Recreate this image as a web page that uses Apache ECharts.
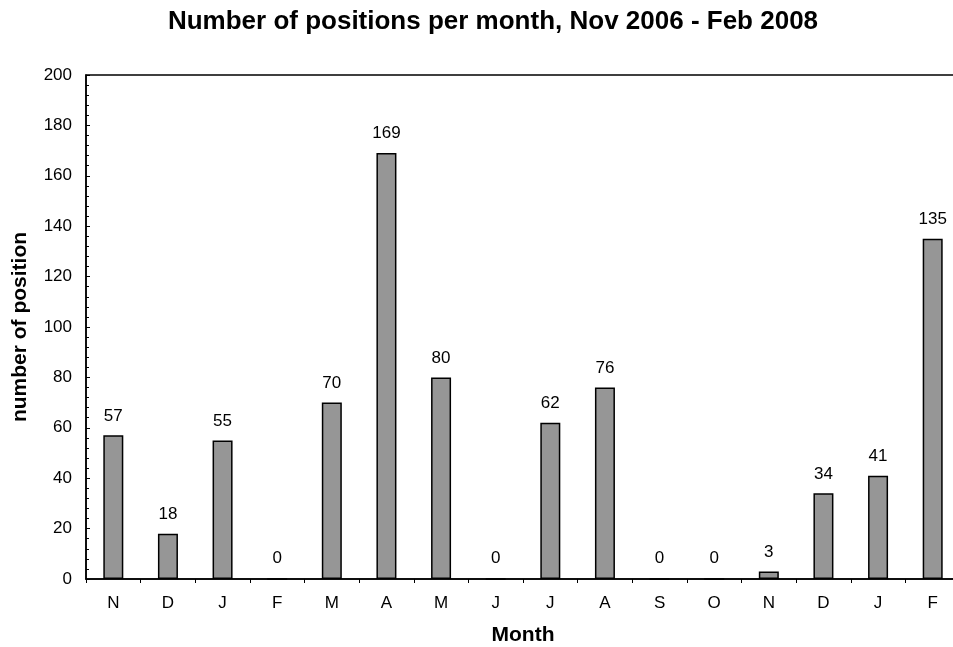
<!DOCTYPE html>
<html>
<head>
<meta charset="utf-8">
<script src="https://cdn.jsdelivr.net/npm/echarts@6/dist/echarts.min.js"></script>
<style>
  html, body { margin: 0; padding: 0; background: #fff; }
  #chart { width: 953px; height: 647px; }
</style>
</head>
<body>
<div id="chart"></div>
<script>
const months = ['N','D','J','F','M','A','M','J','J','A','S','O','N','D','J','F'];
const positions = [57, 18, 55, 0, 70, 169, 80, 0, 62, 76, 0, 0, 3, 34, 41, 135];
const yTicks = { min: 0, max: 200, interval: 20 };

const font = '"Liberation Sans", Arial, sans-serif';
const chart = echarts.init(document.getElementById('chart'));
chart.setOption({
  animation: false,
  backgroundColor: '#fff',
  title: {
    text: 'Number of positions per month, Nov 2006 - Feb 2008',
    left: 488, top: 4, textAlign: 'center',
    textStyle: { fontFamily: font, fontSize: 26, fontWeight: 'bold', color: '#000' }
  },
  // plot area runs a few px past the right edge, like the original
  grid: {
    left: 86, top: 75, width: 874, bottom: 68, outerBoundsMode: 'none',
    show: true, borderColor: '#000', borderWidth: 1.5
  },
  xAxis: {
    type: 'category', data: months,
    name: 'Month', nameLocation: 'middle', nameGap: 46,
    nameTextStyle: { fontFamily: font, fontSize: 21, fontWeight: 'bold', color: '#000' },
    axisLine: { lineStyle: { color: '#000', width: 1.5 } },
    axisTick: { show: true, length: 4, lineStyle: { color: '#000' } },
    axisLabel: { fontFamily: font, fontSize: 17, color: '#000', margin: 16 }
  },
  yAxis: {
    type: 'value', min: yTicks.min, max: yTicks.max, interval: yTicks.interval,
    name: 'number of position', nameLocation: 'middle', nameGap: 55,
    nameTextStyle: { fontFamily: font, fontSize: 21, fontWeight: 'bold', color: '#000' },
    axisLine: { show: true, lineStyle: { color: '#000', width: 1.5 } },
    axisTick: { show: true, inside: true, length: 4, lineStyle: { color: '#000' } },
    minorTick: { show: true, splitNumber: 5, length: 3, lineStyle: { color: '#000' } },
    axisLabel: { fontFamily: font, fontSize: 17, color: '#000', margin: 14 },
    splitLine: { show: false }
  },
  series: [{
    type: 'bar', data: positions, barWidth: 20,
    itemStyle: { color: '#969696', borderColor: '#000', borderWidth: 1.5 },
    label: { show: true, position: 'top', distance: 11, fontFamily: font, fontSize: 17, color: '#000' }
  }]
});
</script>
</body>
</html>
